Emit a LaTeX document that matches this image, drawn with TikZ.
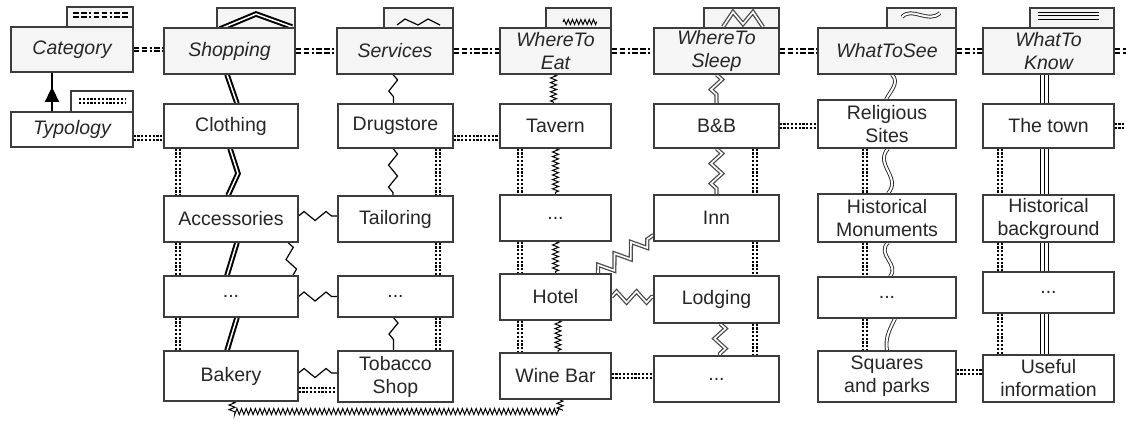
\documentclass[tikz,border=0pt]{standalone}
\usepackage{fontspec}
\setmainfont{Liberation Sans}
\usetikzlibrary{decorations.pathmorphing,decorations.markings,arrows.meta,calc}
\definecolor{edgec}{HTML}{3C3C3C}
\definecolor{catfill}{HTML}{F5F5F5}
\definecolor{txt}{HTML}{262626}
\pgfdeclarelayer{bg}
\pgfdeclarelayer{conn}
\pgfsetlayers{bg,conn,main}
\begin{document}
\begin{tikzpicture}[x=1pt,y=-1pt,
  box/.style={draw=edgec, line width=1.1pt, fill=white, text=txt, inner sep=0pt, align=center, font=\fontsize{19.5}{23}\selectfont},
  catbox/.style={box, fill=catfill, font=\fontsize{19.5}{23}\selectfont\itshape},
  tabbox/.style={draw=edgec, line width=1.1pt, fill=catfill},
  c1/.style={box, minimum width=134pt},
  c2/.style={box, minimum width=115pt},
  c3/.style={box, minimum width=111pt},
  c4/.style={box, minimum width=125pt},
  c5/.style={box, minimum width=138pt},
  c6/.style={box, minimum width=131pt},
  dashdbl/.style={draw=black, line width=2pt, double=white, double distance=1.6pt, dash pattern=on 5.5pt off 2.5pt on 5.5pt off 2.5pt on 2pt off 2.5pt},
  dotdbl/.style={draw=black, line width=1.9pt, double=white, double distance=1.4pt, dash pattern=on 2.2pt off 1.6pt},
  shopln/.style={draw=black, line width=2pt, double=white, double distance=1.5pt, line join=miter},
  servzig/.style={draw=black, line width=1.2pt, decorate, decoration={zigzag, segment length=22pt, amplitude=4.5pt}},
  spring/.style={draw=black, line width=1pt, decorate, decoration={zigzag, segment length=4.6pt, amplitude=3pt}},
  sleepzig/.style={draw=black!70, line width=1.3pt, double=white, double distance=1.6pt, decorate, decoration={zigzag, segment length=20pt, amplitude=5.5pt}},
  sleepln/.style={draw=black!70, line width=1.3pt, double=white, double distance=1.6pt},
  seedbl/.style={draw=black!85, line width=0.9pt, double=white, double distance=2pt},
  knowout/.style={draw=black, line width=1pt, double=white, double distance=7pt},
  knowin/.style={draw=black, line width=1pt},
]
\begin{pgfonlayer}{bg}
\fill[white] (0,0) rectangle (1126,420);
\end{pgfonlayer}
\useasboundingbox (0,0) rectangle (1126,420);

% tabs
\draw[tabbox] (67,7) rectangle (133,27);
\draw[tabbox, fill=white] (71,91) rectangle (133,112);
\draw[tabbox] (217,8) rectangle (295,28);
\draw[tabbox] (384,8) rectangle (453,28);
\draw[tabbox] (546,8) rectangle (611,28);
\draw[tabbox] (704,8) rectangle (779,28);
\draw[tabbox] (887,8) rectangle (956,28);
\draw[tabbox] (1030,8) rectangle (1114,28);

% tab icons
\draw[dashdbl] (73,15) -- (128,15);
\draw[dotdbl] (79,101) -- (126,101);
\draw[shopln] (220,29) -- (256,14) -- (292,27);
\draw[line width=1.2pt] (397,25) -- (405,19) -- (418,25) -- (428,19) -- (440,25);
\draw[spring, decoration={zigzag, segment length=4.2pt, amplitude=2.5pt}] (563,22) -- (597,22);
\draw[sleepln] (723,27) -- (733,12) -- (743,24) -- (753,12) -- (763,27);
\draw[seedbl] (902,17) .. controls (912,6) and (928,24) .. (940,13);
\draw[line width=0.9pt] (1038,12) -- (1099,12) (1038,15.5) -- (1099,15.5) (1038,19) -- (1099,19);

% category row
\node[catbox, minimum width=122pt, minimum height=45pt] (cat) at (72,49.5) {Category};
\node[box, font=\fontsize{19.5}{23}\selectfont\itshape, minimum width=122pt, minimum height=35pt] (typ) at (72,129.5) {Typology};
\node[catbox, minimum width=131pt, minimum height=46pt] (shop) at (229.5,51) {Shopping};
\node[catbox, minimum width=116pt, minimum height=46pt] (serv) at (395,51) {Services};
\node[catbox, minimum width=111pt, minimum height=46pt] (eat) at (555.5,51) {WhereTo\\Eat};
\node[catbox, minimum width=125pt, minimum height=46pt] (sleep) at (716.5,51) {WhereTo\\Sleep};
\node[catbox, minimum width=138pt, minimum height=46pt] (see) at (887,51) {WhatToSee};
\node[catbox, minimum width=131pt, minimum height=46pt] (know) at (1048.5,51) {WhatTo\\Know};
\coordinate (edgeA) at (1126,51);
\coordinate (edgeB) at (1126,126);

% column 1
\node[c1, minimum height=44pt] (clo) at (231,126) {Clothing};
\node[c1, minimum height=46pt] (acc) at (231,219) {Accessories};
\node[c1, minimum height=41pt] (d1) at (231,296.5) {...};
\node[c1, minimum height=50pt] (bak) at (231,376) {Bakery};
% column 2
\node[c2, minimum height=44pt] (drug) at (395.5,126) {Drugstore};
\node[c2, minimum height=46pt] (tail) at (395.5,219) {Tailoring};
\node[c2, minimum height=41pt] (d2) at (395.5,296.5) {...};
\node[c2, minimum height=51pt] (tob) at (395.5,376.5) {Tobacco\\Shop};
% column 3
\node[c3, minimum height=44pt] (tav) at (555.5,126) {Tavern};
\node[c3, minimum height=46pt] (d3) at (555.5,218) {...};
\node[c3, minimum height=46pt] (hot) at (555.5,297) {Hotel};
\node[c3, minimum height=46pt] (wine) at (555.5,376) {Wine Bar};
% column 4
\node[c4, minimum height=44pt] (bb) at (716.5,126) {B\&B};
\node[c4, minimum height=46pt] (inn) at (716.5,218) {Inn};
\node[c4, minimum height=47pt] (lodg) at (716.5,299.5) {Lodging};
\node[c4, minimum height=46pt] (d4) at (716.5,379) {...};
% column 5
\node[c5, minimum height=48pt] (rel) at (887,124) {Religious\\Sites};
\node[c5, minimum height=48pt] (hmon) at (887,218) {Historical\\Monuments};
\node[c5, minimum height=41pt] (d5) at (887,297.5) {...};
\node[c5, minimum height=51pt] (sq) at (887,376.5) {Squares\\and parks};
% column 6
\node[c6, minimum height=44pt] (town) at (1048.5,126) {The town};
\node[c6, minimum height=47pt] (hbg) at (1048.5,218.5) {Historical\\background};
\node[c6, minimum height=41pt] (d6) at (1048.5,292.5) {...};
\node[c6, minimum height=47pt] (use) at (1048.5,378.5) {Useful\\information};

% legend arrow
\draw[line width=1.8pt, decoration={markings, mark=at position 0.63 with {\arrow{Triangle[width=14pt,length=15pt]}}}, postaction={decorate}] ([xshift=-20pt]typ.north) -- ([xshift=-20pt]cat.south);

\begin{pgfonlayer}{conn}
% category row connectors
\draw[dashdbl] (cat.east) -- (cat.east -| shop.west);
\draw[dashdbl] (shop.east) -- (serv.west);
\draw[dashdbl] (serv.east) -- (eat.west);
\draw[dashdbl] (eat.east) -- (sleep.west);
\draw[dashdbl] (sleep.east) -- (see.west);
\draw[dashdbl] (see.east) -- (know.west);
\draw[dashdbl] (know.east) -- (edgeA);

% double dotted
\draw[dotdbl] ([yshift=-8.5pt]typ.east) -- ([yshift=-8.5pt]typ.east -| clo.west);
\foreach \a/\b in {clo/acc, acc/d1, d1/bak}
  \draw[dotdbl] ([xshift=-53pt]\a.south) -- ([xshift=-53pt]\b.north);
\foreach \a/\b in {drug/tail, tail/d2, d2/tob}
  \draw[dotdbl] ([xshift=42.5pt]\a.south) -- ([xshift=42.5pt]\b.north);
\foreach \a/\b in {tav/d3, d3/hot, hot/wine}
  \draw[dotdbl] ([xshift=-35.5pt]\a.south) -- ([xshift=-35.5pt]\b.north);
\foreach \a/\b in {bb/inn, inn/lodg, lodg/d4}
  \draw[dotdbl] ([xshift=38.5pt]\a.south) -- ([xshift=38.5pt]\b.north);
\foreach \a/\b in {rel/hmon, hmon/d5, d5/sq}
  \draw[dotdbl] ([xshift=-22pt]\a.south) -- ([xshift=-22pt]\b.north);
\foreach \a/\b in {town/hbg, hbg/d6, d6/use}
  \draw[dotdbl] ([xshift=-48.5pt]\a.south) -- ([xshift=-48.5pt]\b.north);
\draw[dotdbl] ([yshift=-12pt]drug.east) -- ([yshift=-12pt]drug.east -| tav.west);
\draw[dotdbl] ([yshift=-14pt]bak.east) -- ([yshift=-14pt]bak.east -| tob.west);
\draw[dotdbl] (wine.east) -- (wine.east -| d4.west);
\draw[dotdbl] (bb.east) -- (bb.east -| rel.west);
\draw[dotdbl] ([yshift=4.5pt]sq.east) -- ([yshift=4.5pt]sq.east -| use.west);
\draw[dotdbl] (town.east) -- (town.east -| edgeB);

% shopping double lines
\draw[shopln] ([xshift=-2.5pt]shop.south) -- ([xshift=6pt]clo.north);
\draw[shopln] ([xshift=-1pt]clo.south) -- ++(8,25) -- ([xshift=-3pt]acc.north);
\draw[shopln] ([xshift=6pt]acc.south) -- ([xshift=-4pt]d1.north);
\draw[shopln] ([xshift=6pt]d1.south) -- ([xshift=-4pt]bak.north);

% services zigzags
\draw[servzig] ([xshift=-2pt]serv.south) -- ([xshift=-2pt]drug.north);
\draw[servzig] ([xshift=-2.5pt]drug.south) -- ([xshift=-2.5pt]tail.north);
\draw[servzig] ([xshift=-2pt]d2.south) -- ([xshift=-2pt]tob.north);
\draw[servzig] ([xshift=57pt]acc.south) -- ([xshift=62pt]d1.north);
\draw[servzig] ([yshift=3pt]acc.east) -- ([yshift=3pt]acc.east -| tail.west);
\draw[servzig] (d1.east) -- (d1.east -| d2.west);
\draw[servzig] ([yshift=3pt]bak.east) -- ([yshift=3pt]bak.east -| tob.west);

% where to eat springs
\draw[spring] ([xshift=-2pt]eat.south) -- ([xshift=-2pt]tav.north);
\draw[spring] (tav.south) -- (d3.north);
\draw[spring] (d3.south) -- (hot.north);
\draw[spring] ([xshift=2.5pt]hot.south) -- ([xshift=2.5pt]wine.north);
\draw[spring] ([xshift=1pt]bak.south) |- ([xshift=4.5pt,yshift=-12pt]wine.south) -- ([xshift=4.5pt]wine.south);

% where to sleep double zigzags
\draw[sleepzig] (sleep.south) -- (bb.north);
\draw[sleepzig] (bb.south) -- (inn.north);
\draw[sleepzig] ([xshift=3.5pt]lodg.south) -- ([xshift=3.5pt]d4.north);
\draw[sleepzig, decoration={amplitude=7pt}] ([xshift=42.5pt]hot.north) -- ([yshift=-17pt]inn.west);
\draw[sleepzig] (hot.east) -- (hot.east -| lodg.west);

% what to see waves
\draw[seedbl] ([xshift=5pt]see.south) .. controls +(8,8) and +(4,-8) .. ([xshift=-1pt]rel.north);
\draw[seedbl] ([xshift=1pt]rel.south) .. controls +(-14,16) and +(14,-16) .. ([xshift=1pt]hmon.north);
\draw[seedbl] ([xshift=1pt]hmon.south) .. controls +(-12,12) and +(10,-12) .. ([xshift=3pt]d5.north);
\draw[seedbl] ([xshift=8pt]d5.south) .. controls +(-6,12) and +(-2,-12) .. (sq.north);

% what to know triple lines
\foreach \a/\b in {know/town, town/hbg, hbg/d6, d6/use} {
  \draw[knowout] ([xshift=-4.5pt]\a.south) -- ([xshift=-4.5pt]\b.north);
  \draw[knowin] ([xshift=-4.5pt]\a.south) -- ([xshift=-4.5pt]\b.north);
}
\end{pgfonlayer}
\end{tikzpicture}
\end{document}
